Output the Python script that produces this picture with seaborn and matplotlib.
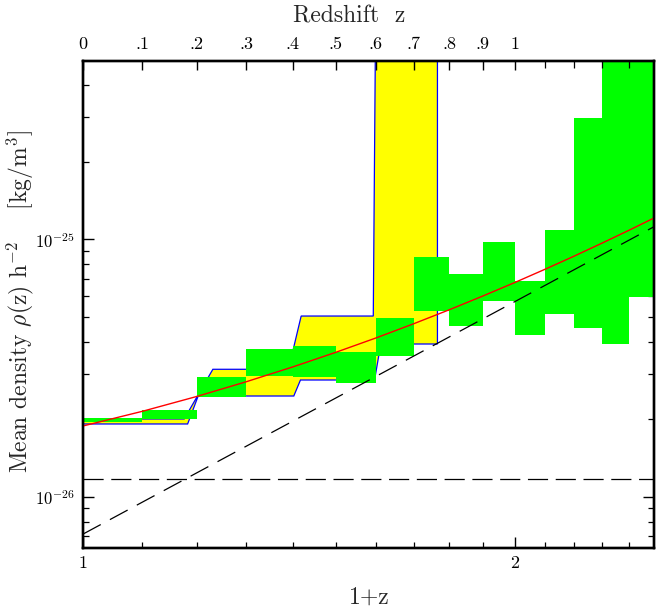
import numpy as np
import pandas as pd
import matplotlib
matplotlib.use("Agg")
import matplotlib.pyplot as plt
import seaborn as sns
from matplotlib.ticker import FixedLocator, NullFormatter

# ---------------- data (densities in units of 1e-26 kg/m^3) ----------------
bin_left = [1.0, 1.1, 1.2, 1.3, 1.4, 1.5, 1.6, 1.7, 1.8, 1.9, 2.0, 2.1, 2.2, 2.3, 2.4]
bin_width = 0.1
box_low = [1.945, 1.998, 2.446, 2.944, 2.926, 2.773, 3.521, 5.280, 4.617, 5.759,
           4.248, 5.140, 4.511, 3.920, 5.953]
box_high = [2.013, 2.172, 2.910, 3.737, 3.850, 3.659, 4.933, 8.514, 7.311, 9.788,
            6.905, 10.84, 29.60, 80.0, 80.0]

band_lower_x = [1.0, 1.1828, 1.2030, 1.4025, 1.4176, 1.5966, 1.6126, 1.7661]
band_lower_y = [1.916, 1.916, 2.461, 2.461, 2.840, 2.840, 3.920, 3.920]
band_upper_x = [1.0, 1.1764, 1.2317, 1.3906, 1.4192, 1.5933, 1.6036, 1.7661]
band_upper_y = [2.004, 2.004, 3.126, 3.126, 5.035, 5.035, 500.0, 500.0]

model_x = [1.0, 1.1, 1.2, 1.3, 1.4, 1.5, 1.6, 1.7, 1.8, 1.9, 2.0, 2.1, 2.2, 2.3, 2.4, 2.5]
model_y = [1.882, 2.146, 2.450, 2.798, 3.192, 3.637, 4.137, 4.699, 5.326, 6.026,
           6.801, 7.663, 8.615, 9.670, 10.83, 12.11]

const_level = 1.168
cube_x = [1.0, 2.5]
cube_y = [0.715, 11.2]

unit = 1e-26

z_ticks = [0.0, 0.1, 0.2, 0.3, 0.4, 0.5, 0.6, 0.7, 0.8, 0.9, 1.0]
z_labels = ["0", ".1", ".2", ".3", ".4", ".5", ".6", ".7", ".8", ".9", "1"]
z_minor = [1.1, 1.2, 1.3, 1.4]
x_major = [1, 2]
x_labels = ["1", "2"]
x_minor = [1.1, 1.2, 1.3, 1.4, 1.5, 1.6, 1.7, 1.8, 1.9, 2.1, 2.2, 2.3, 2.4]
y_major = [1e-26, 1e-25]
y_labels = [r"$10^{-26}$", r"$10^{-25}$"]
y_minor = [7e-27, 8e-27, 9e-27, 2e-26, 3e-26, 4e-26, 5e-26, 6e-26, 7e-26, 8e-26,
           9e-26, 2e-25, 3e-25, 4e-25]

# ---------------- style ----------------
sns.set_theme(style="ticks")
plt.rcParams["font.family"] = ["cmr10", "DejaVu Serif"]
plt.rcParams["mathtext.fontset"] = "cm"
plt.rcParams["axes.formatter.use_mathtext"] = True
plt.rcParams["lines.scale_dashes"] = False
plt.rcParams["axes.unicode_minus"] = True

W, H = 667, 612
fig = plt.figure(figsize=(W / 100, H / 100), dpi=100)
L, R, T, B = 83, 654, 60.7, 547.7
ax = fig.add_axes([L / W, 1 - B / H, (R - L) / W, (B - T) / H])
ax.set_xscale("log")
ax.set_yscale("log")
ax.set_xlim(1.0, 2.5)
ax.set_ylim(6.33e-27, 4.95e-25)
ax.set_facecolor("white")

# yellow band with blue outline
poly_x = band_lower_x + band_upper_x[::-1]
poly_y = [v * unit for v in band_lower_y + band_upper_y[::-1]]
ax.fill(poly_x, poly_y, facecolor="#ffff00", edgecolor="#0000ff", lw=0.9, zorder=1)

# green boxes
lo = np.array(box_low) * unit
hi = np.array(box_high) * unit
ax.bar(bin_left, hi - lo, bottom=lo, width=bin_width, align="edge",
       color="#00ff00", edgecolor="none", linewidth=0, zorder=2)

# red model curve
df = pd.DataFrame({"x": model_x, "y": np.array(model_y) * unit})
sns.lineplot(data=df, x="x", y="y", color="#ff0000", lw=1.0, ax=ax, zorder=3,
             sort=True, estimator=None)

# dashed reference lines
ax.plot([1.0, 2.5], [const_level * unit] * 2, color="black", lw=0.9,
        linestyle=(0, (14.5, 5.5)), zorder=4)
ax.plot(cube_x, np.array(cube_y) * unit, color="black", lw=0.9,
        linestyle=(0, (14.5, 7.5)), zorder=4)

# axes ticks
ax.set_xticks(x_major, x_labels)
ax.xaxis.set_minor_locator(FixedLocator(x_minor))
ax.xaxis.set_minor_formatter(NullFormatter())
ax.set_yticks(y_major, y_labels)
ax.yaxis.set_minor_locator(FixedLocator(y_minor))
ax.yaxis.set_minor_formatter(NullFormatter())
ax.tick_params(which="both", direction="in", top=False, right=True, color="black",
               labelcolor="black")
ax.tick_params(axis="x", labelsize=13)
ax.tick_params(axis="y", labelsize=12)
ax.tick_params(which="major", length=8, width=1.0, pad=6)
ax.tick_params(which="minor", length=4.2, width=0.9)
ax.set_xlabel("")
ax.set_ylabel("")
for s in ax.spines.values():
    s.set_linewidth(1.7)
    s.set_color("black")

axt = ax.twiny()
axt.set_xscale("log")
axt.set_xlim(1.0, 2.5)
axt.set_xticks([1 + z for z in z_ticks], z_labels)
axt.xaxis.set_minor_locator(FixedLocator([1 + z for z in z_minor]))
axt.xaxis.set_minor_formatter(NullFormatter())
axt.tick_params(which="both", direction="in", color="black", labelsize=13,
                labelcolor="black")
axt.tick_params(which="major", length=6.5, width=1.0, pad=6)
axt.tick_params(which="minor", length=5, width=0.9)
for s in axt.spines.values():
    s.set_linewidth(1.7)
    s.set_color("black")

fig.text(349 / W, 1 - 16 / H, "Redshift  z", ha="center", va="center", fontsize=17)
fig.text(369 / W, 1 - 598 / H, "1+z", ha="center", va="center", fontsize=17)
fig.text(20 / W, 1 - 302 / H,
         r"Mean density $\rho$(z) h$^{-2}$    [kg/m$^{3}$]",
         ha="center", va="center", rotation=90, fontsize=17)

fig.savefig("out.png", dpi=100, facecolor="white")
